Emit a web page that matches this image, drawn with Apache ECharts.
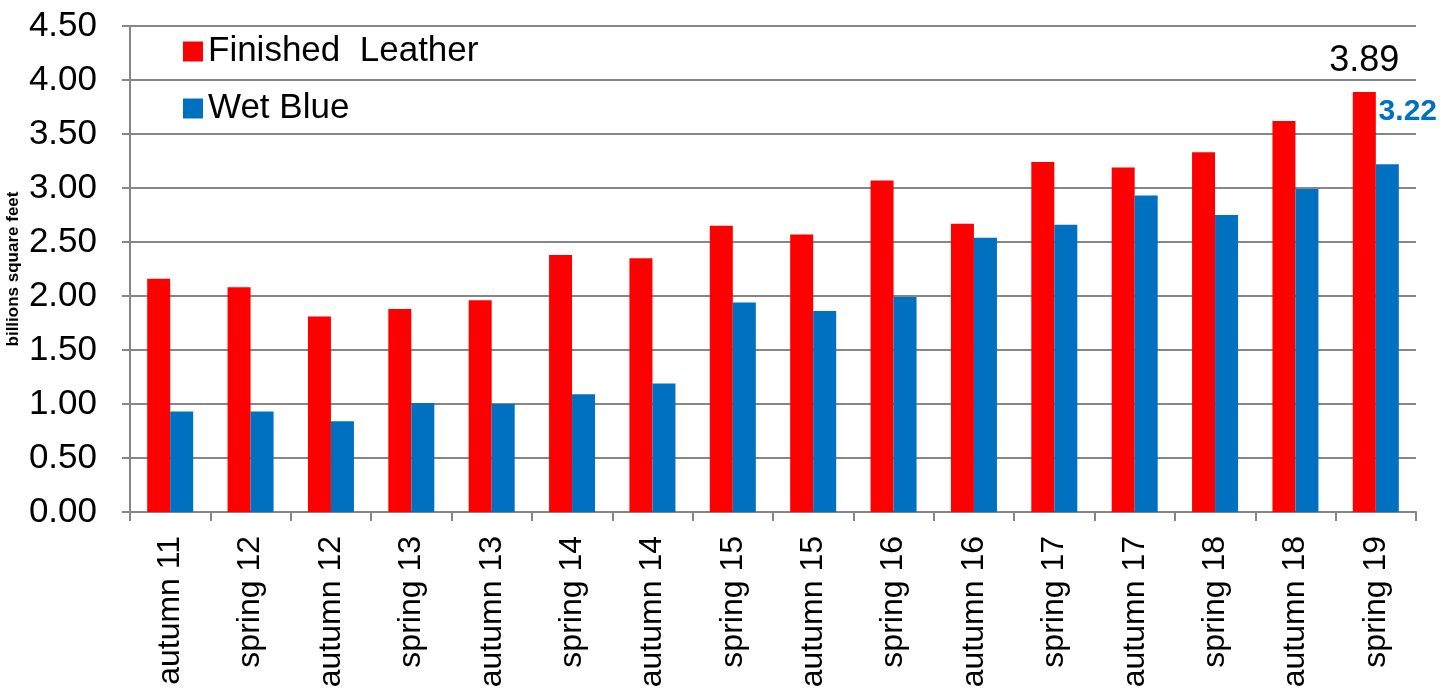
<!DOCTYPE html>
<html>
<head>
<meta charset="utf-8">
<script src="https://cdn.jsdelivr.net/npm/echarts@6/dist/echarts.min.js"></script>
<style>
  html, body { margin: 0; padding: 0; background: #fff; }
  #chart { width: 1443px; height: 693px; }
</style>
</head>
<body>
<div id="chart"></div>
<script>
var categories = ['autumn 11', 'spring 12', 'autumn 12', 'spring 13', 'autumn 13', 'spring 14', 'autumn 14', 'spring 15',
  'autumn 15', 'spring 16', 'autumn 16', 'spring 17', 'autumn 17', 'spring 18', 'autumn 18', 'spring 19']
var finishedLeather = [2.16, 2.08, 1.81, 1.88, 1.96, 2.38, 2.35, 2.65, 2.57, 3.07, 2.67, 3.24, 3.19, 3.33, 3.62, 3.89]
var wetBlue = [0.93, 0.93, 0.84, 1.01, 1.00, 1.09, 1.19, 1.94, 1.86, 1.99, 2.54, 2.66, 2.93, 2.75, 2.99, 3.22]

var fontName = 'Liberation Sans, Arial, sans-serif'
var gridGrey = '#868686'
var last = categories.length - 1

// only the last bar of each series gets its value written
function withLastLabel(values, labelStyle) {
  return values.map(function (v, i) {
    if (i !== last) return v
    return { value: v, label: labelStyle }
  })
}

var chart = echarts.init(document.getElementById('chart'))

var option = {
  backgroundColor: '#fff',
  textStyle: { fontFamily: fontName },
  grid: { left: 130, right: 27, top: 26, bottom: 181, outerBoundsMode: 'none', containLabel: false },
  legend: {
    orient: 'vertical',
    left: 178,
    top: 29,
    itemWidth: 20,
    itemHeight: 20,
    itemGap: 22,
    icon: 'rect',
    textStyle: { fontSize: 35, color: '#000', fontFamily: fontName },
    data: ['Finished  Leather', 'Wet Blue']
  },
  xAxis: {
    type: 'category',
    data: categories,
    axisLine: { lineStyle: { color: gridGrey, width: 2 } },
    axisTick: { show: true, length: 9, interval: 0, lineStyle: { color: gridGrey, width: 2 } },
    axisLabel: {
      rotate: 90,
      interval: 0,
      margin: 24,
      fontSize: 32,
      color: '#000',
      fontFamily: fontName
    }
  },
  yAxis: {
    type: 'value',
    min: 0,
    max: 4.5,
    interval: 0.5,
    name: 'billions square feet',
    nameLocation: 'middle',
    nameGap: 108,
    nameMoveOverlap: false,
    nameTextStyle: { fontSize: 17, fontWeight: 'bold', color: '#000', fontFamily: fontName },
    axisLine: { show: true, lineStyle: { color: gridGrey, width: 2 } },
    axisTick: { show: true, length: 8, lineStyle: { color: gridGrey, width: 2 } },
    splitLine: { lineStyle: { color: gridGrey, width: 2 } },
    axisLabel: {
      margin: 33,
      fontSize: 35,
      color: '#000',
      fontFamily: fontName,
      formatter: function (v) { return v.toFixed(2) }
    }
  },
  series: [
    {
      name: 'Finished  Leather',
      type: 'bar',
      barWidth: 23,
      barGap: '0%',
      itemStyle: { color: '#ff0000' },
      data: withLastLabel(finishedLeather, {
        show: true,
        position: [11.5, -31],
        align: 'center',
        verticalAlign: 'middle',
        fontSize: 36,
        color: '#000',
        fontFamily: fontName
      })
    },
    {
      name: 'Wet Blue',
      type: 'bar',
      barWidth: 23,
      itemStyle: { color: '#0070c0' },
      data: withLastLabel(wetBlue, {
        show: true,
        position: [32, -53],
        align: 'center',
        verticalAlign: 'middle',
        fontSize: 30,
        fontWeight: 'bold',
        color: '#0070c0',
        fontFamily: fontName
      })
    }
  ]
}

chart.setOption(option)
</script>
</body>
</html>
